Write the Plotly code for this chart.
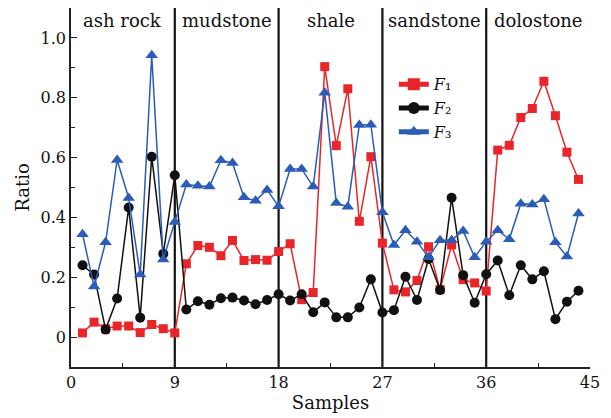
import plotly.graph_objects as go

samples = list(range(1, 45))

f1 = [0.014, 0.05, 0.028, 0.037, 0.037, 0.015, 0.042, 0.028, 0.014,
      0.245, 0.306, 0.300, 0.272, 0.323, 0.256, 0.259, 0.257, 0.286,
      0.312, 0.125, 0.149, 0.904, 0.640, 0.830, 0.387, 0.603, 0.314,
      0.158, 0.151, 0.189, 0.302, 0.159, 0.308, 0.192, 0.181, 0.154,
      0.625, 0.641, 0.734, 0.764, 0.855, 0.740, 0.618, 0.527]

f2 = [0.240, 0.209, 0.025, 0.129, 0.433, 0.065, 0.603, 0.278, 0.541,
      0.092, 0.120, 0.108, 0.130, 0.132, 0.122, 0.110, 0.124, 0.143,
      0.122, 0.143, 0.083, 0.116, 0.066, 0.066, 0.099, 0.193, 0.082,
      0.090, 0.202, 0.124, 0.261, 0.157, 0.466, 0.207, 0.115, 0.210,
      0.256, 0.140, 0.240, 0.193, 0.220, 0.060, 0.118, 0.155]

f3 = [0.344, 0.169, 0.317, 0.592, 0.465, 0.209, 0.942, 0.259, 0.385,
      0.510, 0.506, 0.503, 0.591, 0.582, 0.467, 0.456, 0.492, 0.437,
      0.562, 0.562, 0.503, 0.817, 0.448, 0.436, 0.709, 0.710, 0.417,
      0.308, 0.357, 0.319, 0.267, 0.324, 0.324, 0.355, 0.267, 0.319,
      0.357, 0.327, 0.446, 0.443, 0.461, 0.317, 0.269, 0.413]

series_names = ["<i>F</i>\u2081", "<i>F</i>\u2082", "<i>F</i>\u2083"]

boundaries = [9, 18, 27, 36]
regions = ["ash rock", "mudstone", "shale", "sandstone", "dolostone"]
region_edges = [0, 9, 18, 27, 36, 45]

x_ticks = [0, 9, 18, 27, 36, 45]
y_ticks = [0, 0.2, 0.4, 0.6, 0.8, 1.0]
y_ticktext = ["0", "0.2", "0.4", "0.6", "0.8", "1.0"]

FONT = "DejaVu Serif"

fig = go.Figure()
fig.add_trace(go.Scatter(
    x=samples, y=f1, mode="lines+markers", name=series_names[0],
    line=dict(color="#e8262a", width=1.5),
    marker=dict(symbol="square", size=9, color="#e8262a")))
fig.add_trace(go.Scatter(
    x=samples, y=f2, mode="lines+markers", name=series_names[1],
    line=dict(color="#111111", width=1.5),
    marker=dict(symbol="circle", size=10, color="#111111")))
fig.add_trace(go.Scatter(
    x=samples, y=f3, mode="lines+markers", name=series_names[2],
    line=dict(color="#2a5cb8", width=1.5),
    marker=dict(symbol="triangle-up", size=11, color="#2a5cb8")))

for b in boundaries:
    fig.add_shape(type="line", x0=b, x1=b, xref="x", y0=0, y1=1, yref="paper",
                  line=dict(color="#111111", width=2.2), layer="below")

for i, name in enumerate(regions):
    fig.add_annotation(x=(region_edges[i] + region_edges[i + 1]) / 2, xref="x",
                       y=0.965, yref="paper", text=name, showarrow=False,
                       font=dict(family=FONT, size=18, color="#111111"),
                       yanchor="middle")

fig.update_layout(
    width=611, height=418,
    margin=dict(l=71, r=21, t=8, b=46),
    paper_bgcolor="white", plot_bgcolor="white",
    font=dict(family=FONT, size=16, color="#111111"),
    showlegend=True,
    legend=dict(x=0.622, y=0.835, xanchor="left", yanchor="top",
                bgcolor="rgba(0,0,0,0)", font=dict(family=FONT, size=16),
                tracegroupgap=0, itemsizing="constant"),
)

fig.update_xaxes(
    range=[0, 45], tickvals=x_ticks, ticks="inside", ticklen=6,
    tickwidth=1.2, tickcolor="#222", showline=True, linecolor="#222",
    linewidth=1.5, showgrid=False, zeroline=False,
    minor=dict(dtick=4.5, tick0=0, ticks="inside", ticklen=4, tickcolor="#222"),
    title=dict(text="Samples", font=dict(family=FONT, size=18), standoff=5),
    tickfont=dict(family=FONT, size=16),
)
fig.update_yaxes(
    range=[-0.1, 1.1], tickvals=y_ticks, ticktext=y_ticktext, ticks="inside",
    ticklen=6, tickwidth=1.2, tickcolor="#222", showline=True, linecolor="#222",
    linewidth=1.5, showgrid=False, zeroline=False,
    minor=dict(dtick=0.1, tick0=0, ticks="inside", ticklen=4, tickcolor="#222"),
    title=dict(text="Ratio", font=dict(family=FONT, size=18), standoff=6),
    tickfont=dict(family=FONT, size=16),
)

fig.write_html("out.html", config={"displayModeBar": False},
               post_script="document.body.style.margin='0';document.body.style.padding='0';")
